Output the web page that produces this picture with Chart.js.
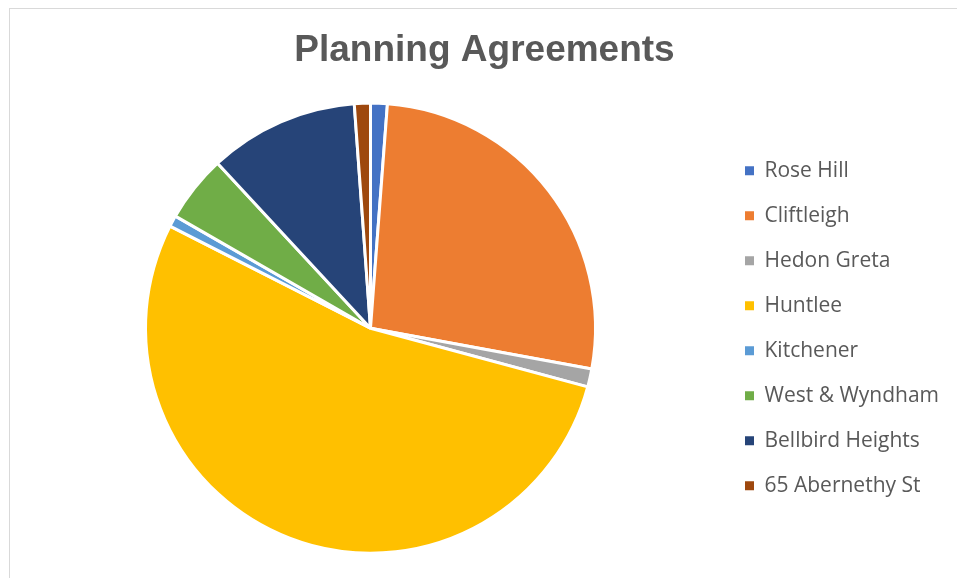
<!DOCTYPE html>
<html>
<head>
<meta charset="utf-8">
<title>Planning Agreements</title>
<script src="https://cdn.jsdelivr.net/npm/chart.js@4"></script>
<style>
    html, body { margin: 0; padding: 0; background: #fff; overflow: hidden; }
    #frame {
        position: absolute; left: 9px; top: 8px;
        width: 1200px; height: 800px;
        border: 1px solid #d9d9d9;
    }
    #wrap { position: absolute; left: 0; top: 0; width: 957px; height: 578px; }
</style>
</head>
<body>
<div id="frame"></div>
<div id="wrap"><canvas id="pie" width="957" height="578"></canvas></div>
<script>
// --- data ---
const areas = ['Rose Hill', 'Cliftleigh', 'Hedon Greta', 'Huntlee', 'Kitchener', 'West & Wyndham', 'Bellbird Heights', '65 Abernethy St'];
const shares = [1.2, 26.7, 1.3, 53.3, 0.8, 4.8, 10.75, 1.15];
const sliceColors = ['#4472C4', '#ED7D31', '#A5A5A5', '#FFC000', '#5B9BD5', '#70AD47', '#264478', '#9E480E'];

const textGrey = '#595959';
const legendFont = { family: "'Open Sans', sans-serif", size: 21 };

// legend text should start at a fixed x, so pad the right side by what the widest label leaves over
function rightPad() {
    const ctx = document.createElement('canvas').getContext('2d');
    ctx.font = `${legendFont.size}px ${legendFont.family}`;
    const widest = Math.max(...areas.map(a => ctx.measureText(a).width));
    return Math.max(0, 182.5 - widest);
}
const padR = rightPad();

new Chart(document.getElementById('pie'), {
    type: 'pie',
    data: {
        labels: areas,
        datasets: [{
            data: shares,
            backgroundColor: sliceColors,
            borderColor: '#ffffff',
            borderWidth: 3
        }]
    },
    options: {
        responsive: false,
        animation: false,
        radius: 225,
        layout: { padding: { left: 20, right: padR, top: 10, bottom: 26 } },
        plugins: {
            title: {
                display: true,
                text: 'Planning Agreements',
                color: textGrey,
                font: { family: "'Liberation Sans', Arial, sans-serif", size: 37, weight: 'bold', lineHeight: 1.2 },
                padding: { top: 19, bottom: 31 }
            },
            legend: {
                position: 'right',
                fullSize: false,
                labels: {
                    color: textGrey,
                    font: legendFont,
                    boxWidth: 9,
                    boxHeight: 9,
                    padding: 24,
                    generateLabels(chart) {
                        const items = Chart.overrides.pie.plugins.legend.labels.generateLabels(chart);
                        return items.map(it => Object.assign(it, { lineWidth: 0 }));
                    }
                }
            },
            tooltip: { enabled: false }
        }
    }
});
</script>
</body>
</html>
